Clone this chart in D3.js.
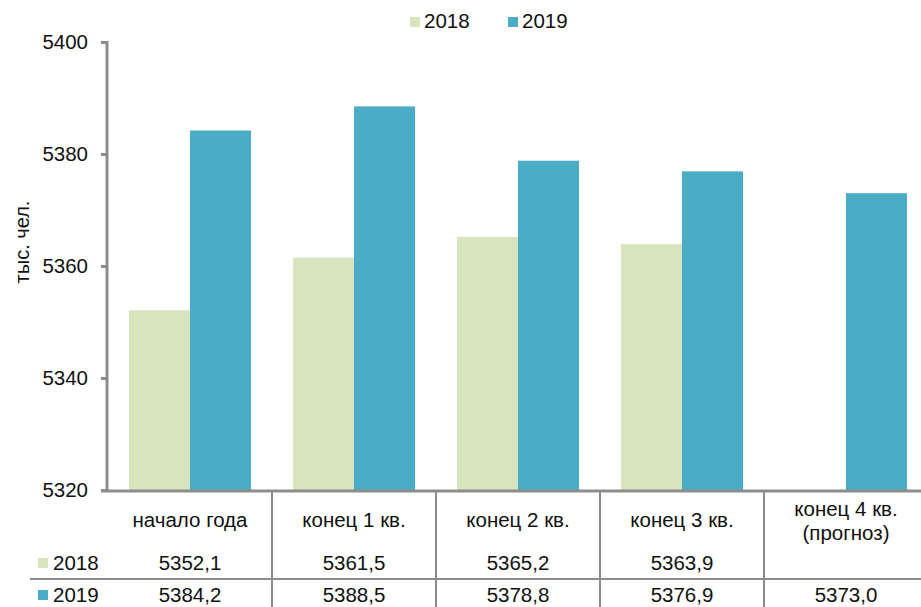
<!DOCTYPE html>
<html><head><meta charset="utf-8">
<script src="https://cdn.jsdelivr.net/npm/d3@7"></script>
<style>
body{margin:0;background:#fff;overflow:hidden}
text{font-family:"Liberation Sans",Arial,sans-serif;fill:#111}
</style></head>
<body><svg id="c" width="921" height="607"></svg>
<script>
const categories = ["начало года","конец 1 кв.","конец 2 кв.","конец 3 кв.","конец 4 кв.|(прогноз)"];
const series = ["2018","2019"];
const values2018 = [5352.1, 5361.5, 5365.2, 5363.9, null];
const values2019 = [5384.2, 5388.5, 5378.8, 5376.9, 5373.0];
const yTicks = [5320, 5340, 5360, 5380, 5400];
const colors = ["#d7e4bd", "#4bacc6"];
const yTitle = "тыс. чел.";

const FS = 20.5;
const svg = d3.select("#c");
const axisColor = "#8c8c8c";
const x0 = d3.scaleBand().domain(categories).range([108, 928]).padding(0);
const xs = d3.scaleBand().domain(series).range([0, 122]);
const y = d3.scaleLinear().domain([5320, 5400]).range([490, 42]);
const data = [values2018, values2019];
const fmt = v => v == null ? "" : d3.format(".1f")(v).replace(".", ",");

// bars
series.forEach((s, si) => {
  svg.append("g").selectAll("rect").data(categories.map((c, i) => ({c, v: data[si][i]})).filter(d => d.v != null))
    .join("rect")
    .attr("x", d => x0(d.c) + 21 + xs(s))
    .attr("width", xs.bandwidth())
    .attr("y", d => y(d.v))
    .attr("height", d => y(5320) - y(d.v))
    .attr("fill", colors[si]);
});

// y axis
const yAxis = svg.append("g").attr("transform", "translate(107,0)")
  .call(d3.axisLeft(y).tickValues(yTicks).tickSize(6).tickPadding(13).tickFormat(d3.format("d")));
yAxis.select(".domain").attr("stroke", axisColor).attr("stroke-width", 3).attr("d", "M0,41V492");
yAxis.selectAll(".tick line").attr("stroke", axisColor).attr("stroke-width", 3);
yAxis.selectAll(".tick text").attr("font-size", FS).attr("fill", "#111").attr("font-family", "Liberation Sans, Arial, sans-serif");

// bottom axis line
svg.append("line").attr("x1", 101).attr("x2", 921).attr("y1", y(5320) + 1).attr("y2", y(5320) + 1)
  .attr("stroke", axisColor).attr("stroke-width", 3);

// y title
svg.append("text").attr("transform", "translate(29,242) rotate(-90)").attr("text-anchor", "middle")
  .attr("font-size", 20).text(yTitle);

// legend
const leg = [{s: "2018", x: 410}, {s: "2019", x: 508}];
leg.forEach((l, i) => {
  svg.append("rect").attr("x", l.x).attr("y", 17).attr("width", 10).attr("height", 10).attr("fill", colors[i]);
  svg.append("text").attr("x", l.x + 14).attr("y", 28).attr("font-size", FS).text(l.s);
});

// data table
const tableColor = "#8c8c8c";
const tg = svg.append("g");
categories.forEach((c, i) => {
  if (i > 0) tg.append("line").attr("x1", x0(c)).attr("x2", x0(c)).attr("y1", 492).attr("y2", 607)
    .attr("stroke", tableColor).attr("stroke-width", 2);
  const cx = x0(c) + x0.bandwidth() / 2;
  const lines = c.split("|");
  const t = tg.append("text").attr("text-anchor", "middle").attr("font-size", FS);
  if (lines.length === 1) {
    t.append("tspan").attr("x", cx).attr("y", 527).text(lines[0]);
  } else {
    lines.forEach((ln, k) => t.append("tspan").attr("x", cx).attr("y", 516 + k * 24).text(ln));
  }
  tg.append("text").attr("text-anchor", "middle").attr("font-size", FS).attr("x", cx).attr("y", 570).text(fmt(values2018[i]));
  tg.append("text").attr("text-anchor", "middle").attr("font-size", FS).attr("x", cx).attr("y", 602).text(fmt(values2019[i]));
});
tg.append("line").attr("x1", 30).attr("x2", 921).attr("y1", 579).attr("y2", 579).attr("stroke", tableColor).attr("stroke-width", 2);
series.forEach((s, si) => {
  const yy = si === 0 ? 570 : 602;
  tg.append("rect").attr("x", 38).attr("y", yy - 12).attr("width", 10).attr("height", 10).attr("fill", colors[si]);
  tg.append("text").attr("x", 53).attr("y", yy).attr("font-size", FS).text(s);
});
</script></body></html>
